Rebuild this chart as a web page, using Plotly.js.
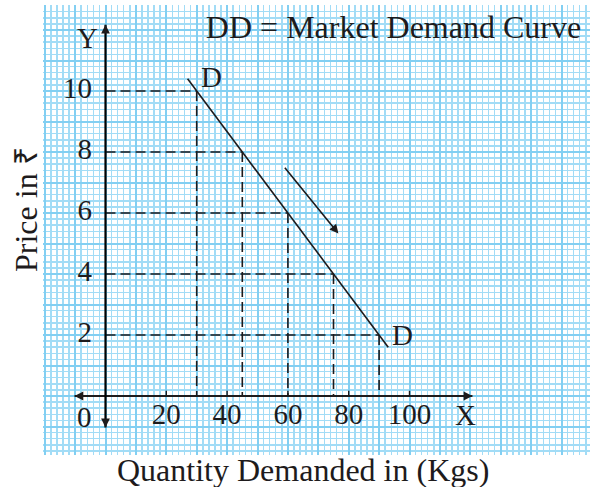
<!DOCTYPE html>
<html>
<head>
<meta charset="utf-8">
<script src="https://cdn.plot.ly/plotly-3.0.1.min.js"></script>
<style>html,body{margin:0;padding:0;background:#fff;}#chart{width:590px;height:487px;}</style>
</head>
<body>
<div id="chart"></div>
<script>
// Demand schedule points
var quantity = [30, 45, 60, 75, 90];
var price = [10, 8, 6, 4, 2];
// Demand curve DD endpoints
var curveQ = [27, 93];
var curveP = [10.4, 1.6];
// Movement arrow along the curve
var moveQ = [58.6, 76.6];
var moveP = [7.53, 5.33];
// Tick labels
var xTicks = [20, 40, 60, 80, 100];
var xTickLabels = ['20', '40', '60', '80', '100'];
var yTicks = [2, 4, 6, 8, 10];
var yTickLabels = ['2', '4', '6', '8', '10'];
// Axis extents (arrow tips)
var xAxisEnds = [-10.2, 120.7];
var yAxisEnds = [-1.03, 12.17];

var ink = '#1e1b1c';
var font = 'Liberation Serif, Times New Roman, serif';

var traces = [];
// x axis line
traces.push({x: [xAxisEnds[0], xAxisEnds[1]], y: [0, 0],
  mode: 'lines', line: {color: ink, width: 1.8}, hoverinfo: 'skip', showlegend: false});
// dashed guide lines
var dx = [], dy = [];
for (var i = 0; i < quantity.length; i++) {
  dx.push(0, quantity[i], null, quantity[i], quantity[i], null);
  dy.push(price[i], price[i], null, price[i], 0, null);
}
traces.push({x: dx, y: dy, mode: 'lines', line: {color: ink, width: 1.6, dash: '10px,5px'}, hoverinfo: 'skip', showlegend: false});
// demand curve
traces.push({x: curveQ, y: curveP, mode: 'lines', line: {color: ink, width: 1.6}, hoverinfo: 'skip', showlegend: false});
// x tick marks
var tx = [], ty = [];
xTicks.forEach(function(t){ tx.push(t, t, null); ty.push(0, 0.17, null); });
traces.push({x: tx, y: ty, mode: 'lines', line: {color: ink, width: 1.4}, hoverinfo: 'skip', showlegend: false});
// x tick labels
traces.push({x: xTicks, y: xTicks.map(function(){return -0.68;}), text: xTickLabels, mode: 'text',
  textfont: {family: font, size: 29, color: ink}, textposition: 'middle center', hoverinfo: 'skip', showlegend: false});
// y tick labels
traces.push({x: yTicks.map(function(){return -4.4;}), y: yTicks, text: yTickLabels, mode: 'text',
  textfont: {family: font, size: 29, color: ink}, textposition: 'middle left', hoverinfo: 'skip', showlegend: false});
// y axis line (on top)
traces.push({x: [0, 0], y: [yAxisEnds[0], yAxisEnds[1]],
  mode: 'lines', line: {color: '#000000', width: 2.2}, hoverinfo: 'skip', showlegend: false});

var annotations = [];
function arrowHead(x, y, fx, fy) {
  annotations.push({x: x, y: y, ax: fx, ay: fy, xref: 'x', yref: 'y', axref: 'x', ayref: 'y',
    showarrow: true, arrowhead: 2, arrowsize: 1.1, arrowwidth: 1.6, arrowcolor: ink, text: '', standoff: 0});
}
arrowHead(xAxisEnds[0], 0, xAxisEnds[0] + 3, 0);
arrowHead(xAxisEnds[1], 0, xAxisEnds[1] - 3, 0);
arrowHead(0, yAxisEnds[0], 0, yAxisEnds[0] + 0.3);
arrowHead(0, yAxisEnds[1], 0, yAxisEnds[1] - 0.3);
arrowHead(moveQ[1], moveP[1], moveQ[0], moveP[0]);
function label(txt, x, y, size) {
  annotations.push({x: x, y: y, xref: 'x', yref: 'y', text: txt, showarrow: false,
    font: {family: font, size: size, color: ink}, xanchor: 'center', yanchor: 'middle'});
}
label('D', 34.9, 10.45, 29);
label('D', 97.6, 2.0, 29);
label('Y', -5.9, 11.75, 29);
label('X', 118.4, -0.62, 29);
label('0', -6.9, -0.68, 29);

var L = 43, T = 5, W = 547, H = 450;
annotations.push({x: (302.5 - L) / W, y: 1 - (470 - T) / H, xref: 'paper', yref: 'paper', text: 'Quantity Demanded in (Kgs)',
  showarrow: false, font: {family: font, size: 32, color: ink}, xanchor: 'center', yanchor: 'middle'});
annotations.push({x: (26 - L) / W, y: 1 - (210 - T) / H, xref: 'paper', yref: 'paper', text: 'Price in ₹', textangle: -90,
  showarrow: false, font: {family: font, size: 32, color: ink}, xanchor: 'center', yanchor: 'middle'});

var gridMinor = '#a2dcf6';
var gridMajor = '#82cff2';

var layout = {
  width: 590, height: 487,
  margin: {l: L, r: 0, t: T, b: 487 - T - H},
  paper_bgcolor: '#ffffff', plot_bgcolor: '#ffffff',
  title: {text: 'DD = Market Demand Curve', x: 393.5/590, xanchor: 'center', xref: 'container',
    y: 1 - 27/487, yanchor: 'middle', yref: 'container', font: {family: font, size: 32, color: ink}},
  xaxis: {range: [-(105.5 - L)/3.04, (590 - 105.5)/3.04], tick0: 0, dtick: 10, showticklabels: false, ticks: '',
    showgrid: true, gridcolor: gridMajor, gridwidth: 2, zeroline: false,
    minor: {dtick: 2, showgrid: true, gridcolor: gridMinor, gridwidth: 1.5}, fixedrange: true, showline: false},
  yaxis: {range: [-(455 - 396)/30.5, (396 - T)/30.5], tick0: 0, dtick: 1, showticklabels: false, ticks: '',
    showgrid: true, gridcolor: gridMajor, gridwidth: 2, zeroline: false,
    minor: {dtick: 0.2, showgrid: true, gridcolor: gridMinor, gridwidth: 1.5}, fixedrange: true, showline: false},
  annotations: annotations,
  showlegend: false
};

Plotly.newPlot('chart', traces, layout, {displayModeBar: false, staticPlot: true});
</script>
</body>
</html>
